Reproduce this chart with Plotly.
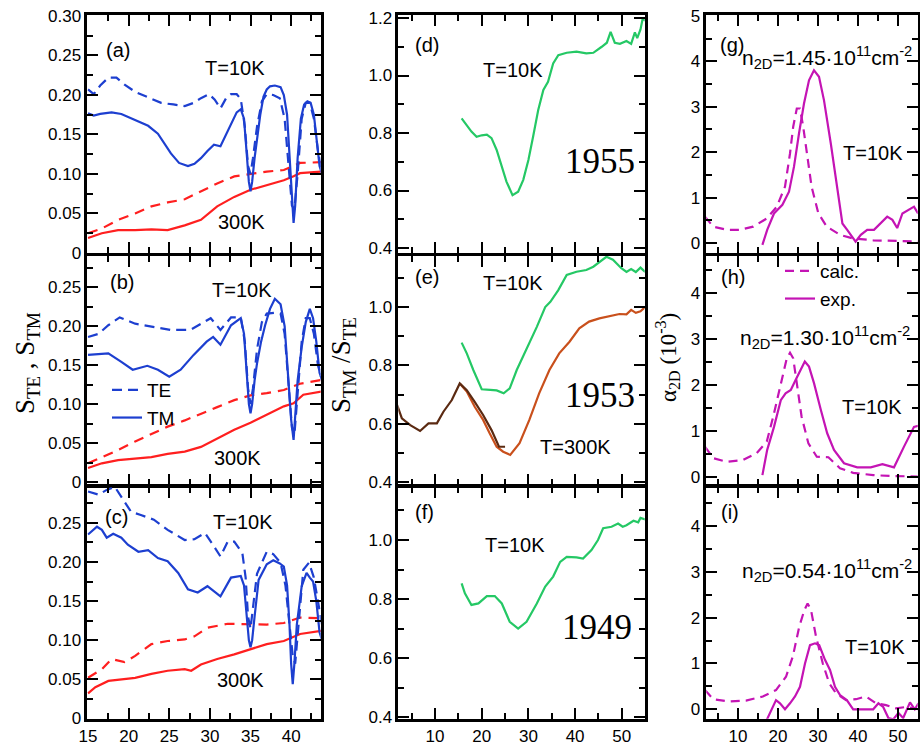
import plotly.graph_objects as go

W, H = 920, 748

# ---------------- data ----------------
# Left column (panels a,b,c): photon energy (meV) vs S_TE, S_TM
a_te_x = [15, 15.7, 16.5, 17.5, 18.5, 19.5, 20.8, 22.5, 24, 25.5, 26.9, 28, 28.9, 29.9, 30.6, 31.3, 32, 32.6, 33.3, 33.8, 34.3, 34.7, 35.0, 35.3, 35.8, 36.4, 37, 37.8, 38.6, 39.2, 39.7, 40.1, 40.4, 40.8, 41.3, 41.8, 42.3, 42.8, 43.3, 43.8]
a_te_y = [0.207, 0.201, 0.212, 0.222, 0.222, 0.213, 0.204, 0.197, 0.19, 0.188, 0.186, 0.19, 0.196, 0.201, 0.194, 0.183, 0.196, 0.201, 0.201, 0.195, 0.16, 0.11, 0.10, 0.12, 0.16, 0.192, 0.201, 0.20, 0.196, 0.17, 0.11, 0.06, 0.055, 0.10, 0.17, 0.19, 0.19, 0.17, 0.13, 0.10]
a_tm_x = [15, 15.7, 16.5, 17.9, 19.1, 20.8, 22.4, 23.6, 24.5, 25.2, 26.2, 27.3, 28.1, 28.9, 29.7, 30.5, 31.3, 32, 32.6, 33.3, 33.8, 34.2, 34.5, 34.8, 35.0, 35.2, 35.5, 35.8, 36.2, 36.6, 37.0, 37.4, 38.0, 38.7, 39.1, 39.5, 39.8, 40.1, 40.3, 40.5, 40.8, 41.2, 41.6, 42.0, 42.4, 42.8, 43.2, 43.5, 43.8]
a_tm_y = [0.177, 0.174, 0.176, 0.178, 0.176, 0.168, 0.161, 0.151, 0.137, 0.126, 0.114, 0.110, 0.113, 0.12, 0.129, 0.137, 0.135, 0.15, 0.163, 0.178, 0.182, 0.17, 0.13, 0.09, 0.078, 0.09, 0.12, 0.145, 0.175, 0.198, 0.207, 0.211, 0.212, 0.21, 0.20, 0.175, 0.12, 0.06, 0.038, 0.06, 0.12, 0.17, 0.188, 0.192, 0.19, 0.175, 0.14, 0.11, 0.10]
a_te300_x = [15, 16.7, 18.7, 20.8, 22.8, 24.8, 26.9, 28.9, 30.9, 33, 35, 37, 39.1, 41.1, 43.8]
a_te300_y = [0.025, 0.031, 0.042, 0.05, 0.059, 0.064, 0.068, 0.078, 0.088, 0.097, 0.10, 0.103, 0.105, 0.114, 0.115]
a_tm300_x = [15, 16.7, 18.7, 20.8, 22.8, 24.8, 26.9, 28.9, 30.9, 33, 35, 37, 39.1, 40.3, 41.1, 43.8]
a_tm300_y = [0.019, 0.025, 0.029, 0.029, 0.03, 0.029, 0.035, 0.042, 0.059, 0.071, 0.08, 0.086, 0.092, 0.097, 0.101, 0.103]

b_te_x = [15, 16.3, 17.5, 18.9, 20.8, 22.8, 25.2, 27.6, 30.1, 31.3, 32.6, 33.8, 34.3, 34.7, 35.0, 35.3, 35.8, 36.4, 37.0, 38.0, 38.7, 39.2, 39.7, 40.1, 40.4, 40.8, 41.3, 41.8, 42.3, 42.8, 43.3, 43.8]
b_te_y = [0.186, 0.19, 0.201, 0.211, 0.203, 0.199, 0.195, 0.195, 0.21, 0.195, 0.211, 0.211, 0.18, 0.12, 0.10, 0.12, 0.17, 0.205, 0.216, 0.217, 0.216, 0.19, 0.12, 0.07, 0.06, 0.11, 0.18, 0.21, 0.21, 0.19, 0.15, 0.13]
b_tm_x = [15, 16.7, 17.5, 19.1, 20.5, 22.3, 23.6, 25, 26.4, 28, 29.6, 30.4, 31.3, 32.6, 33.8, 34.2, 34.5, 34.8, 35.0, 35.2, 35.5, 35.8, 36.3, 36.8, 37.4, 38.0, 38.7, 39.2, 39.6, 40.0, 40.3, 40.5, 40.8, 41.3, 41.8, 42.3, 42.7, 43.1, 43.5, 43.8]
b_tm_y = [0.163, 0.164, 0.165, 0.154, 0.144, 0.149, 0.144, 0.135, 0.144, 0.163, 0.18, 0.186, 0.176, 0.201, 0.21, 0.19, 0.14, 0.10, 0.088, 0.10, 0.13, 0.152, 0.18, 0.201, 0.222, 0.235, 0.228, 0.20, 0.14, 0.08, 0.054, 0.08, 0.13, 0.173, 0.205, 0.222, 0.21, 0.18, 0.14, 0.131]
b_te300_x = [15, 16.7, 18.7, 20.8, 22.8, 24.8, 26.9, 28.9, 30.9, 33, 35, 37, 39.1, 41.1, 43.8]
b_te300_y = [0.024, 0.032, 0.041, 0.052, 0.062, 0.071, 0.079, 0.088, 0.096, 0.105, 0.111, 0.114, 0.118, 0.126, 0.131]
b_tm300_x = [15, 16.7, 18.7, 20.8, 22.8, 24.8, 26.9, 28.9, 30.9, 33, 35, 37, 39.1, 40.3, 41.5, 43.8]
b_tm300_y = [0.018, 0.024, 0.028, 0.030, 0.032, 0.036, 0.039, 0.045, 0.056, 0.067, 0.076, 0.086, 0.097, 0.101, 0.112, 0.116]

c_te_x = [15, 16.3, 17.3, 18.3, 19.1, 20.3, 21.5, 23.1, 24.8, 26.9, 28.1, 29.4, 30.5, 31.3, 32.2, 33.0, 34.0, 34.4, 34.7, 35.0, 35.4, 35.8, 36.4, 37.0, 37.8, 38.7, 39.3, 39.8, 40.2, 40.5, 40.9, 41.5, 42.2, 42.8, 43.3, 43.8]
c_te_y = [0.29, 0.286, 0.292, 0.296, 0.283, 0.264, 0.26, 0.254, 0.241, 0.228, 0.229, 0.237, 0.22, 0.207, 0.226, 0.226, 0.211, 0.18, 0.13, 0.115, 0.15, 0.185, 0.199, 0.213, 0.21, 0.199, 0.17, 0.12, 0.08, 0.07, 0.12, 0.19, 0.199, 0.18, 0.15, 0.12]
c_tm_x = [15, 16.1, 16.7, 17.3, 18.1, 19.1, 19.9, 21.2, 22.4, 23.6, 24.8, 26.1, 27.3, 28.5, 29.7, 30.5, 31.3, 32.6, 33.8, 34.2, 34.5, 34.8, 35.0, 35.2, 35.5, 36.0, 37.0, 37.8, 38.6, 39.1, 39.5, 39.8, 40.0, 40.2, 40.4, 40.7, 41.3, 41.9, 42.3, 42.7, 43.1, 43.5, 43.8]
c_tm_y = [0.235, 0.245, 0.241, 0.231, 0.236, 0.231, 0.222, 0.213, 0.215, 0.205, 0.201, 0.186, 0.165, 0.161, 0.169, 0.163, 0.156, 0.18, 0.182, 0.17, 0.13, 0.10, 0.091, 0.10, 0.13, 0.177, 0.197, 0.202, 0.198, 0.194, 0.17, 0.12, 0.07, 0.044, 0.07, 0.12, 0.169, 0.186, 0.18, 0.175, 0.15, 0.11, 0.10]
c_te300_x = [15, 16.7, 17.9, 19.5, 20.8, 22.8, 24.8, 26.9, 28.1, 29.7, 32.2, 35, 37, 39.1, 41.1, 43.8]
c_te300_y = [0.052, 0.063, 0.076, 0.072, 0.08, 0.095, 0.099, 0.101, 0.105, 0.116, 0.121, 0.12, 0.12, 0.122, 0.129, 0.128]
c_tm300_x = [15, 15.9, 17.5, 19.1, 20.8, 22.8, 24.8, 26.9, 27.7, 28.9, 30.9, 33, 35, 37, 39.1, 41.1, 43.8]
c_tm300_y = [0.032, 0.04, 0.048, 0.05, 0.052, 0.057, 0.061, 0.063, 0.061, 0.069, 0.076, 0.082, 0.088, 0.095, 0.099, 0.108, 0.112]

# Middle column (panels d,e,f): S_TM/S_TE
d_x = [15.7, 16.8, 17.8, 18.9, 20.0, 21.1, 22.1, 23.2, 24.3, 25.3, 26.6, 27.8, 28.9, 30.0, 31.0, 32.1, 33.2, 34.2, 35.3, 36.4, 38.2, 40.3, 42.4, 43.9, 45.7, 46.8, 47.6, 48.5, 49.6, 51.0, 52.0, 52.8, 53.3, 54.0, 54.5, 55.0]
d_y = [0.851, 0.828, 0.805, 0.787, 0.792, 0.794, 0.782, 0.741, 0.683, 0.631, 0.584, 0.596, 0.637, 0.706, 0.787, 0.88, 0.95, 0.978, 1.042, 1.071, 1.079, 1.083, 1.077, 1.079, 1.10, 1.114, 1.152, 1.114, 1.11, 1.12, 1.11, 1.15, 1.13, 1.16, 1.2, 1.19]
e10_x = [15.7, 16.8, 18.2, 20.0, 21.8, 23.2, 24.7, 26.0, 27.5, 29.7, 31.8, 33.6, 34.7, 36.4, 38.2, 40.3, 42.4, 43.9, 45.3, 46.7, 48.1, 49.9, 51.0, 52.0, 53.0, 54.0, 55.0]
e10_y = [0.878, 0.841, 0.784, 0.718, 0.716, 0.714, 0.704, 0.721, 0.784, 0.858, 0.932, 1.0, 1.018, 1.058, 1.11, 1.121, 1.127, 1.138, 1.155, 1.172, 1.162, 1.133, 1.12, 1.13, 1.12, 1.135, 1.12]
e300a_x = [1.9, 2.9, 4.7, 6.8, 8.6, 10.4, 11.8, 13.6, 15.3, 16.8, 18.5, 20.3, 22.1, 23.7, 25.0]
e300a_y = [0.664, 0.618, 0.595, 0.575, 0.601, 0.601, 0.641, 0.681, 0.738, 0.715, 0.675, 0.63, 0.578, 0.521, 0.521]
e300b_x = [15.3, 16.8, 18.5, 20.3, 21.7, 23.2, 24.6, 26.1, 28.1, 30.2, 32.3, 34.5, 36.6, 38.8, 40.9, 43.0, 45.2, 47.3, 49.5, 51.0, 52.0, 53.0, 54.0, 55.0]
e300b_y = [0.738, 0.71, 0.658, 0.613, 0.567, 0.521, 0.504, 0.493, 0.533, 0.613, 0.704, 0.784, 0.841, 0.881, 0.927, 0.95, 0.961, 0.969, 0.976, 0.975, 0.99, 0.98, 0.985, 1.0]
f_x = [15.7, 16.4, 17.8, 19.3, 21.1, 22.8, 24.3, 26.0, 27.8, 29.6, 31.8, 33.6, 35.3, 36.8, 38.2, 40.3, 41.7, 43.5, 44.9, 46.0, 47.8, 49.2, 50.2, 51.0, 52.5, 53.5, 54.0, 55.0]
f_y = [0.853, 0.819, 0.78, 0.785, 0.81, 0.81, 0.785, 0.723, 0.70, 0.723, 0.785, 0.842, 0.876, 0.926, 0.943, 0.941, 0.937, 0.966, 1.0, 1.04, 1.045, 1.056, 1.045, 1.05, 1.065, 1.06, 1.075, 1.07]

# Right column (panels g,h,i): alpha_2D (1e-3)
g_calc_x = [1.75, 3.8, 7.2, 10.5, 13.8, 17.2, 19.7, 21.75, 23.0, 23.8, 24.7, 25.5, 26.3, 27.2, 28.4, 30.1, 32.2, 35.5, 38.8, 43.8, 48.8, 53.8, 55.3]
g_calc_y = [0.58, 0.36, 0.29, 0.29, 0.36, 0.54, 0.80, 1.24, 1.97, 2.56, 2.96, 2.96, 2.56, 1.97, 1.24, 0.65, 0.36, 0.18, 0.10, 0.06, 0.04, 0.03, 0.03]
g_exp_x = [16.1, 17.3, 19.0, 21.1, 22.75, 24.0, 25.25, 26.5, 27.75, 29.0, 30.25, 31.5, 33.2, 34.8, 36.1, 37.3, 38.2, 39.4, 40.7, 42.3, 44.0, 45.7, 47.3, 48.6, 49.8, 51.1, 52.3, 54.0, 55.0]
g_exp_y = [-0.04, 0.29, 0.65, 0.84, 1.13, 1.68, 2.41, 3.07, 3.58, 3.80, 3.66, 3.14, 2.19, 1.24, 0.43, 0.29, 0.18, 0.03, 0.18, 0.29, 0.29, 0.43, 0.58, 0.51, 0.33, 0.65, 0.72, 0.80, 0.65]
h_calc_x = [1.75, 3.8, 7.2, 11.3, 14.7, 17.2, 18.8, 20.1, 21.3, 22.2, 23.0, 23.8, 24.7, 25.9, 27.6, 29.7, 32.6, 35.5, 38.8, 43.8, 48.8, 53.8, 55.3]
h_calc_y = [0.66, 0.41, 0.33, 0.37, 0.52, 0.77, 1.31, 1.82, 2.25, 2.58, 2.70, 2.58, 2.04, 1.31, 0.73, 0.44, 0.43, 0.19, 0.09, 0.04, 0.02, 0.01, 0.01]
h_exp_x = [16.1, 17.3, 19.0, 20.7, 21.9, 23.2, 24.4, 25.7, 26.7, 27.75, 29.0, 30.7, 32.3, 34.0, 36.5, 39.8, 43.2, 46.1, 49.0, 51.5, 54.0, 55.3]
h_exp_y = [0.04, 0.59, 1.09, 1.67, 1.82, 1.89, 2.11, 2.33, 2.51, 2.40, 2.04, 1.46, 0.95, 0.59, 0.30, 0.21, 0.21, 0.28, 0.21, 0.66, 1.09, 1.12]
i_calc_x = [1.75, 3.8, 7.9, 12.0, 16.2, 19.5, 22.0, 23.7, 25.3, 26.6, 27.4, 28.25, 29.5, 31.2, 32.8, 34.5, 37.0, 39.5, 42.0, 44.5, 47.0, 49.5, 52.0, 54.5, 55.3]
i_calc_y = [0.42, 0.22, 0.17, 0.19, 0.28, 0.42, 0.71, 1.15, 1.80, 2.17, 2.31, 2.17, 1.59, 1.00, 0.57, 0.35, 0.20, 0.22, 0.28, 0.13, 0.09, 0.02, 0.05, 0.0, 0.0]
i_exp_x = [17.2, 18.4, 19.5, 20.5, 21.75, 23.0, 24.25, 25.5, 26.75, 28.0, 29.25, 30.3, 31.75, 33.0, 34.25, 35.5, 37.2, 38.8, 41.3, 43.8, 45.1, 46.3, 47.6, 48.8, 50.1, 51.3, 53.0, 54.2, 55.1]
i_exp_y = [-0.23, -0.01, 0.20, 0.13, 0.0, 0.13, 0.28, 0.49, 1.00, 1.40, 1.44, 1.40, 1.08, 0.86, 0.49, 0.31, 0.20, 0.0, 0.0, 0.0, 0.13, 0.05, -0.19, -0.22, -0.08, -0.19, 0.15, 0.0, 0.13]

# tick labels
left_y_ticks = [0, 0.05, 0.10, 0.15, 0.20, 0.25, 0.30]
left_y_text = ["0", "0.05", "0.10", "0.15", "0.20", "0.25", "0.30"]
left_x_ticks = [15, 20, 25, 30, 35, 40]
mid_y_ticks = [0.4, 0.6, 0.8, 1.0, 1.2]
mid_y_text = ["0.4", "0.6", "0.8", "1.0", "1.2"]
right_y_ticks = [0, 1, 2, 3, 4, 5]
mr_x_ticks = [10, 20, 30, 40, 50]

# ---------------- styles / layout ----------------
BLUE = "#1d3fd0"
RED = "#ff1f1f"
GREEN = "#25c865"
DBROWN = "#5b2a12"
OBROWN = "#c9501c"
MAG = "#c414b4"
FONT = "Liberation Sans, Arial, sans-serif"
SERIF = "Liberation Serif, Times New Roman, serif"
LW = 2.6

cols = {1: (86, 322), 2: (397, 646), 3: (705, 919)}
rows = {1: (14, 254.5), 2: (254.5, 486), 3: (486, 720)}

panels = [
    # k, col, row, xrange, yrange
    (1, 1, 1, [14.75, 43.8], [-0.0019, 0.3025]),
    (2, 1, 2, [14.75, 43.8], [-0.0051, 0.2917]),
    (3, 1, 3, [14.75, 43.8], [-0.0019, 0.297]),
    (4, 2, 1, [1.86, 55.18], [0.3774, 1.2139]),
    (5, 2, 2, [1.86, 55.18], [0.3864, 1.18]),
    (6, 2, 3, [1.86, 55.18], [0.39, 1.183]),
    (7, 3, 1, [1.75, 55.25], [-0.253, 5.04]),
    (8, 3, 2, [1.75, 55.25], [-0.196, 4.837]),
    (9, 3, 3, [1.75, 55.25], [-0.234, 4.875]),
]

fig = go.Figure()
layout = dict(template="none", width=W, height=H, margin=dict(l=0, r=0, t=0, b=0, pad=0),
              paper_bgcolor="white", plot_bgcolor="white", showlegend=True)

def ax_name(k, a):
    return a + ("" if k == 1 else str(k))

for k, c, r, xr, yr in panels:
    x0, x1 = cols[c]
    y0, y1 = rows[r]
    # axis lines are drawn outside the plot area: shrink by half a line width
    x0i, x1i = x0 + LW / 2, x1 - LW / 2
    y0i, y1i = y0 + LW / 2, y1 - LW / 2
    xd = [x0i / W, x1i / W]
    yd = [1 - y1i / H, 1 - y0i / H]
    if c == 1:
        xt, xminor = left_x_ticks, [17.5, 22.5, 27.5, 32.5, 37.5, 42.5]
        yt, ytext = left_y_ticks, left_y_text
        yminor = [0.025, 0.075, 0.125, 0.175, 0.225, 0.275]
    elif c == 2:
        xt, xminor = mr_x_ticks, [5, 15, 25, 35, 45, 55]
        yt, ytext = mid_y_ticks, mid_y_text
        yminor = [0.5, 0.7, 0.9, 1.1]
    else:
        xt, xminor = mr_x_ticks, [5, 15, 25, 35, 45, 55]
        yt, ytext = right_y_ticks, [str(v) for v in right_y_ticks]
        yminor = [0.5, 1.5, 2.5, 3.5, 4.5]
    showx = (r == 3)
    xs = (xr[1] - xr[0]) / (x1 - x0)
    ys = (yr[1] - yr[0]) / (y1 - y0)
    xr2 = [xr[0] + (LW / 2) * xs, xr[1] - (LW / 2) * xs]
    yr2 = [yr[0] + (LW / 2) * ys, yr[1] - (LW / 2) * ys]
    xa = dict(domain=xd, range=xr2, anchor=ax_name(k, "y"), showgrid=False, zeroline=False,
              automargin=False,
              showline=True, linecolor="black", linewidth=LW, mirror="ticks",
              ticks="inside", ticklen=11, tickwidth=2.2, tickcolor="black",
              tickvals=xt, ticktext=[str(v) for v in xt], showticklabels=showx,
              tickfont=dict(family=FONT, size=17, color="black"), ticklabelstandoff=0,
              minor=dict(tickvals=xminor, ticks="inside", ticklen=6, tickwidth=2, tickcolor="black", showgrid=False))
    ya = dict(domain=yd, range=yr2, anchor=ax_name(k, "x"), showgrid=False, zeroline=False,
              automargin=False,
              showline=True, linecolor="black", linewidth=LW, mirror="ticks",
              ticks="inside", ticklen=11, tickwidth=2.2, tickcolor="black",
              tickvals=yt, ticktext=ytext,
              tickfont=dict(family=FONT, size=17, color="black"),
              minor=dict(tickvals=yminor, ticks="inside", ticklen=6, tickwidth=2, tickcolor="black", showgrid=False))
    layout["xaxis" if k == 1 else "xaxis%d" % k] = xa
    layout["yaxis" if k == 1 else "yaxis%d" % k] = ya

def add(k, x, y, color, dash="solid", width=2.2, name=None, legend=None):
    fig.add_trace(go.Scatter(
        x=x, y=y, mode="lines", line=dict(color=color, dash=dash, width=width),
        xaxis=ax_name(k, "x"), yaxis=ax_name(k, "y"),
        name=name or "", showlegend=legend is not None, legend=legend or "legend",
        hoverinfo="skip"))

DASH_B = "10px,6px"
DASH_R = "10px,7px"
DASH_M = "9px,6px"

# left column
for k, te_x, te_y, tm_x, tm_y, te3x, te3y, tm3x, tm3y in [
    (1, a_te_x, a_te_y, a_tm_x, a_tm_y, a_te300_x, a_te300_y, a_tm300_x, a_tm300_y),
    (2, b_te_x, b_te_y, b_tm_x, b_tm_y, b_te300_x, b_te300_y, b_tm300_x, b_tm300_y),
    (3, c_te_x, c_te_y, c_tm_x, c_tm_y, c_te300_x, c_te300_y, c_tm300_x, c_tm300_y),
]:
    add(k, te3x, te3y, RED, DASH_R, 2.2)
    add(k, tm3x, tm3y, RED, "solid", 2.2)
    if k == 2:
        add(k, te_x, te_y, BLUE, DASH_B, 2.2, name="TE", legend="legend")
        add(k, tm_x, tm_y, BLUE, "solid", 2.2, name="TM", legend="legend")
    else:
        add(k, te_x, te_y, BLUE, DASH_B, 2.2)
        add(k, tm_x, tm_y, BLUE, "solid", 2.2)

# middle column
add(4, d_x, d_y, GREEN)
add(5, e300b_x, e300b_y, OBROWN)
add(5, e300a_x, e300a_y, DBROWN)
add(5, e10_x, e10_y, GREEN)
add(6, f_x, f_y, GREEN)

# right column
add(7, g_calc_x, g_calc_y, MAG, DASH_M)
add(7, g_exp_x, g_exp_y, MAG)
add(8, h_calc_x, h_calc_y, MAG, DASH_M, name="calc.", legend="legend2")
add(8, h_exp_x, h_exp_y, MAG, "solid", name="exp.", legend="legend2")
add(9, i_calc_x, i_calc_y, MAG, DASH_M)
add(9, i_exp_x, i_exp_y, MAG)

layout["legend"] = dict(x=107 / W, y=1 - 371 / H, xanchor="left", yanchor="top",
                        bgcolor="rgba(0,0,0,0)", font=dict(family=FONT, size=19, color="black"),
                        tracegroupgap=0, itemwidth=30, borderwidth=0)
layout["legend2"] = dict(x=780 / W, y=1 - 252 / H, xanchor="left", yanchor="top",
                         bgcolor="rgba(0,0,0,0)", font=dict(family=FONT, size=19, color="black"),
                         tracegroupgap=0, itemwidth=30, borderwidth=0)

anns = []
def ann(text, px, py, size=20, family=FONT, angle=0):
    anns.append(dict(text=text, x=px / W, y=1 - py / H, xref="paper", yref="paper",
                     showarrow=False, xanchor="center", yanchor="middle", textangle=angle,
                     font=dict(family=family, size=size, color="black")))

ann("(a)", 118, 50)
ann("T=10K", 235, 68)
ann("300K", 242, 222)
ann("(b)", 122, 282)
ann("T=10K", 242, 290)
ann("300K", 237, 458)
ann("(c)", 117, 517)
ann("T=10K", 243, 522)
ann("300K", 240, 680)
ann("(d)", 427, 45)
ann("T=10K", 513, 70)
ann("1955", 600, 162, 35, SERIF)
ann("(e)", 427, 277)
ann("T=10K", 513, 283)
ann("1953", 600, 395, 35, SERIF)
ann("T=300K", 575, 447)
ann("(f)", 424, 512)
ann("T=10K", 515, 545)
ann("1949", 597, 627, 35, SERIF)
ann("(g)", 732, 45)
ann("n<sub>2D</sub>=1.45·10<sup>11</sup>cm<sup>-2</sup>", 827, 58, 21)
ann("T=10K", 873, 153)
ann("(h)", 733, 277)
ann("n<sub>2D</sub>=1.30·10<sup>11</sup>cm<sup>-2</sup>", 825, 337, 21)
ann("T=10K", 872, 407)
ann("(i)", 730, 512)
ann("n<sub>2D</sub>=0.54·10<sup>11</sup>cm<sup>-2</sup>", 827, 570, 21)
ann("T=10K", 875, 647)
ann("S<sub>TE</sub> , S<sub>TM</sub>", 27, 363, 27, SERIF, -90)
ann("S<sub>TM</sub> /S<sub>TE</sub>", 343, 365, 27, SERIF, -90)
ann("α<sub>2D</sub> (10<sup>-3</sup>)", 667, 358, 23, SERIF, -90)
layout["annotations"] = anns

fig.update_layout(**layout)
fig.write_html("out.html", config={"displayModeBar": False},
               post_script="document.body.style.margin='0px';document.body.style.padding='0px';")
